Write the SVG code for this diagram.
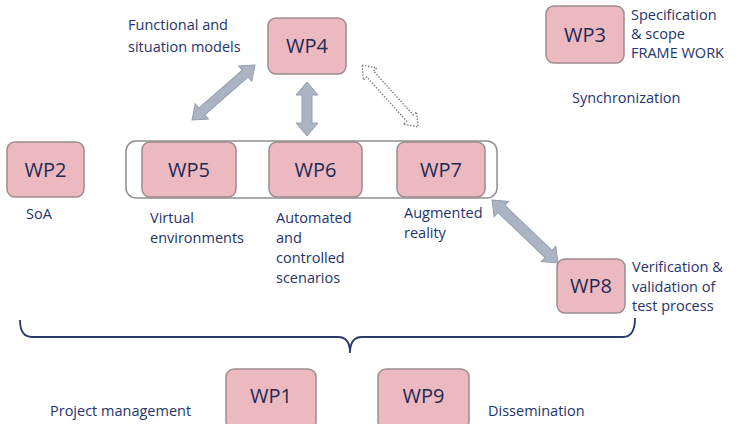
<svg xmlns="http://www.w3.org/2000/svg" width="740" height="424" viewBox="0 0 740 424">
<style>
.box{fill:#ecb9c0;stroke:#9c8c8f;stroke-width:1.5}
.wp{font-family:"Open Sans","Liberation Sans",sans-serif;font-size:20px;fill:#1f2a55;text-anchor:middle}
.lbl{font-family:"Open Sans","Liberation Sans",sans-serif;font-size:14.5px;fill:#25336e}
.arr{fill:#aab4c2;stroke:#929daf;stroke-width:1}
.dot{fill:#ffffff;stroke:#7a7a7a;stroke-width:1.3;stroke-dasharray:1.5 1.5}
</style>
<rect width="740" height="424" fill="#ffffff"/>
<g id="container">
<rect x="126" y="141" width="371" height="57" rx="10" fill="#ffffff" stroke="#8e8e8e" stroke-width="1.5"/>
</g>
<g id="connectors">
<polygon class="arr" transform="translate(223.5,92.5) rotate(-41.1)" points="-41.8,0 -28.8,-10 -28.8,-4.5 28.8,-4.5 28.8,-10 41.8,0 28.8,10 28.8,4.5 -28.8,4.5 -28.8,10"/>
<polygon class="arr" transform="translate(307,109) rotate(90)" points="-27,0 -14,-11 -14,-5 14,-5 14,-11 27,0 14,11 14,5 -14,5 -14,11"/>
<polygon class="dot" transform="translate(390,96) rotate(47.9)" points="-41.7,0 -29.7,-9 -29.7,-4.5 29.7,-4.5 29.7,-9 41.7,0 29.7,9 29.7,4.5 -29.7,4.5 -29.7,9"/>
<polygon class="arr" transform="translate(525,231.5) rotate(43.7)" points="-45.6,0 -32.6,-10.5 -32.6,-5 32.6,-5 32.6,-10.5 45.6,0 32.6,10.5 32.6,5 -32.6,5 -32.6,10.5"/>
<path d="M20,320 Q20,337 32,337 L338,337 Q350,337 350,353 Q350,337 362,337 L623,337 Q635,337 635,318" fill="none" stroke="#2a3a6a" stroke-width="1.8"/>
</g>
<g id="wp4">
<rect class="box" x="268" y="18" width="78" height="56" rx="8"/>
<text class="wp" x="307" y="53">WP4</text>
<text class="lbl" x="128" y="30">Functional and</text>
<text class="lbl" x="128" y="52">situation models</text>
</g>
<g id="wp3">
<rect class="box" x="546" y="6" width="78" height="57" rx="8"/>
<text class="wp" x="585" y="42">WP3</text>
<text class="lbl" x="631" y="20">Specification</text>
<text class="lbl" x="631" y="39">&amp; scope</text>
<text class="lbl" x="631" y="58">FRAME WORK</text>
</g>
<g id="sync">
<text class="lbl" x="572" y="103">Synchronization</text>
</g>
<g id="wp2">
<rect class="box" x="7" y="142" width="77" height="55" rx="8"/>
<text class="wp" x="45.5" y="177">WP2</text>
<text class="lbl" x="26" y="219">SoA</text>
</g>
<g id="wp5">
<rect class="box" x="142" y="142" width="94" height="55" rx="8"/>
<text class="wp" x="189" y="177">WP5</text>
<text class="lbl" x="150" y="223">Virtual</text>
<text class="lbl" x="150" y="243">environments</text>
</g>
<g id="wp6">
<rect class="box" x="269" y="142" width="93" height="55" rx="8"/>
<text class="wp" x="315.5" y="177">WP6</text>
<text class="lbl" x="276" y="223">Automated</text>
<text class="lbl" x="276" y="243">and</text>
<text class="lbl" x="276" y="263">controlled</text>
<text class="lbl" x="276" y="283">scenarios</text>
</g>
<g id="wp7">
<rect class="box" x="397" y="142" width="88" height="55" rx="8"/>
<text class="wp" x="441" y="177">WP7</text>
<text class="lbl" x="404" y="218">Augmented</text>
<text class="lbl" x="404" y="238">reality</text>
</g>
<g id="wp8">
<rect class="box" x="557" y="259" width="68" height="54" rx="8"/>
<text class="wp" x="591" y="293">WP8</text>
<text class="lbl" x="632" y="272">Verification  &amp;</text>
<text class="lbl" x="632" y="292">validation of</text>
<text class="lbl" x="632" y="311">test process</text>
</g>
<g id="wp1">
<rect class="box" x="226" y="369" width="90" height="60" rx="8"/>
<text class="wp" x="271" y="403">WP1</text>
<text class="lbl" x="50" y="416">Project management</text>
</g>
<g id="wp9">
<rect class="box" x="378" y="369" width="91" height="60" rx="8"/>
<text class="wp" x="423.5" y="403">WP9</text>
<text class="lbl" x="488" y="416">Dissemination</text>
</g>
</svg>
